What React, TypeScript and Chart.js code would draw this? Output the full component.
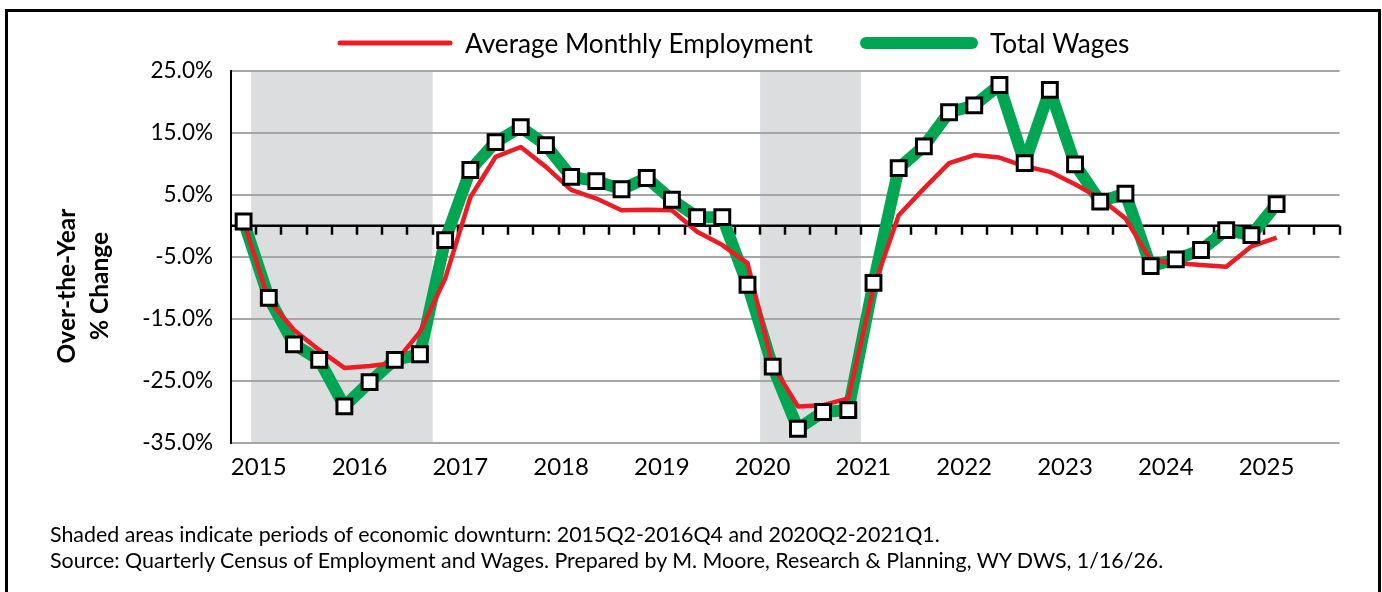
import React, { useEffect, useRef } from "react";
import { Chart, registerables } from "chart.js";

Chart.register(...registerables);

// Quarters plotted (2015Q1 .. 2025Q2)
const quarters: string[] = [];
for (let y = 2015; y <= 2025; y++) {
  for (let q = 1; q <= 4; q++) {
    if (y === 2025 && q > 2) break;
    quarters.push(`${y}Q${q}`);
  }
}

const yearLabels = ["2015", "2016", "2017", "2018", "2019", "2020", "2021", "2022", "2023", "2024", "2025"];

const employment = [
  0.7, -12.0, -16.8, -20.0, -22.9, -22.6, -22.1, -17.1, -8.5, 4.6, 11.1, 12.7, 9.5, 5.8, 4.4, 2.5, 2.6, 2.5,
  -0.95, -3.1, -6.0, -22.5, -29.1, -28.9, -27.8, -10.0, 1.7, 6.0, 10.1, 11.4, 11.0, 9.6, 8.7, 6.7, 4.4, 1.2,
  -5.5, -6.0, -6.3, -6.6, -3.3, -1.9,
];

const wages = [
  0.7, -11.6, -19.1, -21.6, -29.1, -25.2, -21.6, -20.7, -2.3, 9.0, 13.5, 15.9, 13.0, 7.9, 7.2, 5.9, 7.7, 4.2,
  1.4, 1.4, -9.5, -22.7, -32.7, -30.0, -29.7, -9.2, 9.3, 12.8, 18.3, 19.4, 22.7, 10.1, 21.9, 9.9, 3.9, 5.2,
  -6.5, -5.4, -3.9, -0.7, -1.5, 3.5,
];

// Shaded downturn periods (x-axis units, quarter index)
const shadeStart = [0.3, 20.5];
const shadeEnd = [7.5, 24.5];

const seriesNames = ["Average Monthly Employment", "Total Wages"];
const yTitle = ["Over-the-Year", "% Change"];
const notes = [
  "Shaded areas indicate periods of economic downturn: 2015Q2-2016Q4 and 2020Q2-2021Q1.",
  "Source: Quarterly Census of Employment and Wages. Prepared by M. Moore, Research & Planning, WY DWS, 1/16/26.",
];

const RED = "#ed1c24";
const GREEN = "#00a651";
const FONT = "Lato, 'Open Sans', sans-serif";

const extrasPlugin = {
  id: "extras",
  beforeDraw(chart: any) {
    const { ctx, chartArea, scales } = chart;
    const x = scales.x;
    ctx.save();
    ctx.fillStyle = "#dcdddf";
    for (let i = 0; i < shadeStart.length; i++) {
      const x0 = x.getPixelForValue(shadeStart[i]);
      const x1 = x.getPixelForValue(shadeEnd[i]);
      ctx.fillRect(x0, chartArea.top, x1 - x0, chartArea.bottom - chartArea.top);
    }
    ctx.restore();
  },
  beforeDatasetsDraw(chart: any) {
    const { ctx, chartArea, scales } = chart;
    const x = scales.x;
    const y0 = scales.y.getPixelForValue(0);
    ctx.save();
    ctx.strokeStyle = "#000";
    ctx.lineWidth = 2.5;
    ctx.beginPath();
    ctx.moveTo(chartArea.left, y0);
    ctx.lineTo(chartArea.right, y0);
    ctx.stroke();
    ctx.lineWidth = 2.5;
    ctx.beginPath();
    const n = Math.round(x.max - x.min);
    for (let k = 1; k <= n; k++) {
      const px = Math.round(x.getPixelForValue(x.min + k));
      ctx.moveTo(px, y0);
      ctx.lineTo(px, y0 + 9);
    }
    ctx.stroke();
    ctx.restore();
  },
  afterDraw(chart: any) {
    const { ctx } = chart;
    ctx.save();
    // legend
    ctx.lineCap = "round";
    ctx.strokeStyle = RED;
    ctx.lineWidth = 5;
    ctx.beginPath();
    ctx.moveTo(340, 43);
    ctx.lineTo(450, 43);
    ctx.stroke();
    ctx.strokeStyle = GREEN;
    ctx.lineWidth = 12;
    ctx.beginPath();
    ctx.moveTo(866, 43);
    ctx.lineTo(972, 43);
    ctx.stroke();
    ctx.fillStyle = "#000";
    ctx.font = `26.2px ${FONT}`;
    ctx.textBaseline = "middle";
    ctx.textAlign = "left";
    ctx.fillText(seriesNames[0], 465, 45);
    ctx.fillText(seriesNames[1], 990, 45);
    // y title
    ctx.font = `bold 24.5px ${FONT}`;
    ctx.textAlign = "center";
    ctx.translate(0, 286);
    ctx.rotate(-Math.PI / 2);
    ctx.fillText(yTitle[0], 0, 67);
    ctx.fillText(yTitle[1], 0, 100);
    ctx.restore();
  },
};

export default function App() {
  const ref = useRef<HTMLCanvasElement>(null);
  useEffect(() => {
    if (!ref.current) return;
    const chart = new Chart(ref.current, {
      type: "line",
      data: {
        labels: quarters,
        datasets: [
          {
            label: seriesNames[1] + " markers",
            data: wages.map((v, i) => ({ x: i, y: v })),
            showLine: false,
            pointStyle: "rect",
            pointRadius: 10.5,
            pointBackgroundColor: "#fff",
            pointBorderColor: "#000",
            pointBorderWidth: 3,
            order: 0,
          },
          {
            label: seriesNames[0],
            data: employment.map((v, i) => ({ x: i, y: v })),
            borderColor: RED,
            borderWidth: 4.5,
            pointRadius: 0,
            borderJoinStyle: "round",
            tension: 0,
            order: 1,
          },
          {
            label: seriesNames[1],
            data: wages.map((v, i) => ({ x: i, y: v })),
            borderColor: GREEN,
            borderWidth: 12,
            pointRadius: 0,
            borderJoinStyle: "round",
            tension: 0,
            order: 2,
          },
        ],
      },
      options: {
        responsive: false,
        animation: false,
        layout: { padding: { left: 0, right: 42.4, top: 70.7, bottom: 0 } },
        plugins: { legend: { display: false }, tooltip: { enabled: false } },
        scales: {
          x: {
            type: "linear",
            min: -0.5,
            max: 43.5,
            afterFit: (s: any) => {
              s.height = 592 - 443;
            },
            afterBuildTicks: (s: any) => {
              s.ticks = yearLabels.map((_, i) => ({ value: 0.6 + 4 * i }));
            },
            ticks: {
              autoSkip: false,
              maxRotation: 0,
              padding: 10,
              color: "#000",
              font: { family: FONT, size: 24 },
              callback: (_v: any, i: number) => yearLabels[i],
            },
            grid: { display: false, drawTicks: false },
            border: { display: false },
          },
          y: {
            min: -35,
            max: 25,
            afterFit: (s: any) => {
              s.width = 231;
            },
            ticks: {
              stepSize: 10,
              padding: 18,
              color: "#000",
              font: { family: FONT, size: 22.5 },
              callback: (v: any) => Number(v).toFixed(1) + "%",
            },
            grid: { color: "#a6a6a6", lineWidth: 2, drawTicks: false },
            border: { color: "#000", width: 2 },
          },
        },
      },
      plugins: [extrasPlugin],
    });
    return () => chart.destroy();
  }, []);

  return (
    <div style={{ position: "fixed", left: 0, top: 0, width: 1382, height: 592, background: "#fff", overflow: "hidden" }}>
      <canvas ref={ref} width={1382} height={592} style={{ position: "absolute", left: 0, top: 0 }} />
      <div
        style={{
          position: "absolute",
          left: 5,
          top: 9,
          width: 1376,
          height: 640,
          border: "3px solid #000",
          boxSizing: "border-box",
          pointerEvents: "none",
        }}
      />
      {notes.map((t, i) => (
        <div
          key={i}
          style={{
            position: "absolute",
            left: 50,
            top: 523 + i * 26,
            fontFamily: FONT,
            fontSize: 21.4,
            lineHeight: "22px",
            color: "#000",
            whiteSpace: "nowrap",
          }}
        >
          {t}
        </div>
      ))}
    </div>
  );
}
